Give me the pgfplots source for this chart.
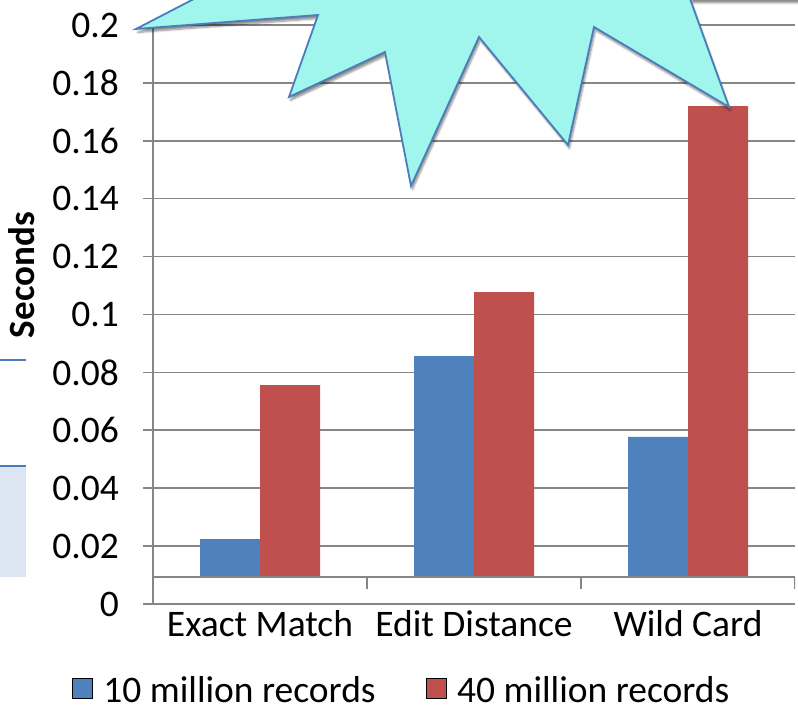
\documentclass[border=0pt]{standalone}
\usepackage{fontspec}
\setmainfont{Carlito}
\usepackage{pgfplots}
\pgfplotsset{compat=1.18}
\usetikzlibrary{shadows.blur}

\definecolor{barblue}{RGB}{79,129,189}
\definecolor{barred}{RGB}{192,80,77}
\definecolor{gridgray}{RGB}{134,134,134}
\definecolor{burstfill}{RGB}{160,245,236}
\definecolor{edgeblue}{RGB}{74,126,187}
\definecolor{panelfill}{RGB}{220,230,242}

\pgfplotsset{
  sqlegend/.style={legend image code/.code={\draw[##1] (0bp,-8bp) rectangle (20bp,12bp);}},
}

\begin{document}
\begin{tikzpicture}[x=1bp,y=1bp]
\useasboundingbox (0,0) rectangle (798,707);
\clip (0,0) rectangle (798,707);

% pieces of neighbouring slide shapes on the left
\fill[panelfill] (0,130) rectangle (26,241);
\draw[edgeblue, line width=2bp] (0,241) -- (26,241);
\draw[edgeblue, line width=2bp] (0,347) -- (26,347);

\begin{axis}[
  at={(153bp,103bp)}, anchor=south west,
  scale only axis, width=642bp, height=579bp,
  font=\fontsize{37.5bp}{45bp}\selectfont,
  xmin=-0.5, xmax=2.5,
  ymin=-0.0093, ymax=0.1907,
  xtick={0,1,2},
  xticklabels={Exact Match, Edit Distance, Wild Card},
  ytick={-0.0093,0.0107,0.0307,0.0507,0.0707,0.0907,0.1107,0.1307,0.1507,0.1707,0.1907},
  yticklabels={0,0.02,0.04,0.06,0.08,0.1,0.12,0.14,0.16,0.18,0.2},
  ymajorgrids, grid style={gridgray, line width=1.6bp},
  axis lines*=left, axis line style={gridgray, line width=1.6bp, -},
  tick align=outside, major tick length=10bp,
  ytick style={gridgray, line width=1.6bp},
  xtick style={draw=none},
  xticklabel style={anchor=base, yshift=-23bp},
  yticklabel style={anchor=east, inner sep=0pt, xshift=-24bp},
  ylabel={Seconds},
  ylabel style={font=\fontsize{37bp}{45bp}\selectfont\bfseries,
    at={(axis description cs:-0.1838,0.568)}, anchor=base},
  ybar=0bp, bar width=60bp,
  legend columns=2,
  legend style={at={(axis description cs:-0.1262,-0.149)}, anchor=west,
    draw=none, fill=none, inner sep=0pt, outer sep=0pt,
    nodes={inner sep=0pt},
    /tikz/every odd column/.append style={column sep=11bp},
    /tikz/every even column/.append style={column sep=50bp}},
]
\addplot[fill=barblue, draw=none, sqlegend] coordinates {(0,0.0131) (1,0.0763) (2,0.0484)};
\addplot[fill=barred, draw=none, sqlegend] coordinates {(0,0.0663) (1,0.0984) (2,0.1627)};
\legend{10 million records, 40 million records}

% front edge of the floor with category dividers
\draw[gridgray, line width=1.6bp] (axis cs:-0.5,0) -- (axis cs:2.5,0);
\draw[gridgray, line width=1.6bp] (axis cs:0.5,0) -- ++(0bp,-12bp);
\draw[gridgray, line width=1.6bp] (axis cs:1.5,0) -- ++(0bp,-12bp);
\draw[gridgray, line width=1.6bp] (axis cs:2.5,0) -- ++(0bp,-12bp);
\end{axis}

% shape sitting above the top right corner (only its shadow shows)
\fill[white, blur shadow={shadow xshift=0bp, shadow yshift=-4bp, shadow blur steps=6, shadow opacity=45}]
  (692,708) rectangle (860,780);

% callout burst
\filldraw[fill=burstfill, draw=edgeblue, line width=1.8bp, line join=miter,
  blur shadow={shadow xshift=1.5bp, shadow yshift=-3.5bp, shadow blur steps=6, shadow opacity=45}]
  (269,747) -- (136,678) -- (318,692) -- (289,610) -- (385,655) -- (411,521)
  -- (479,670) -- (568,562) -- (594,680) -- (729,600) -- (676,747) -- cycle;
\end{tikzpicture}
\end{document}
